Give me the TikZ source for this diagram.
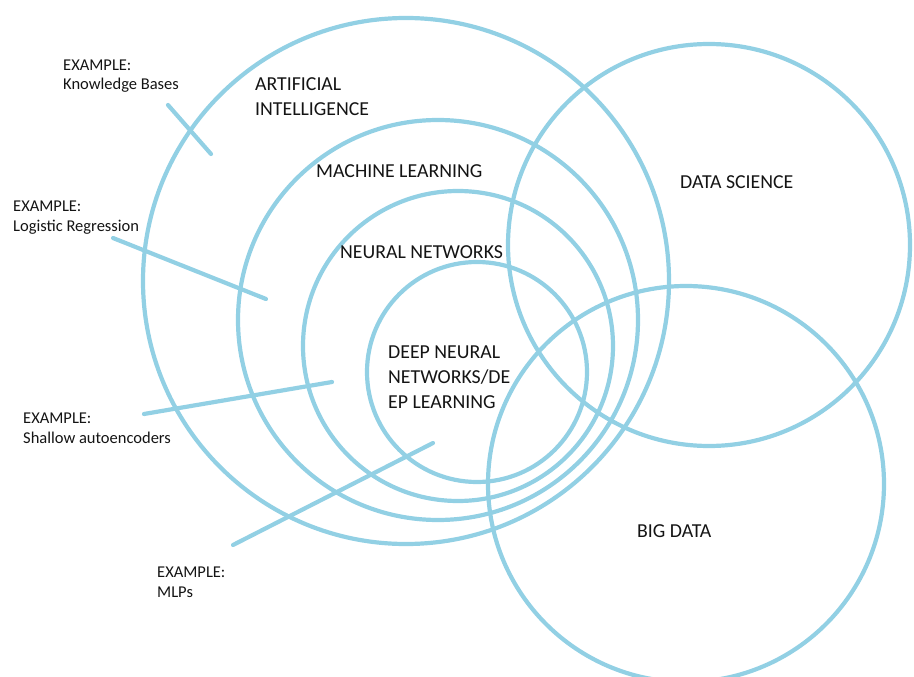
\documentclass[tikz,border=0pt]{standalone}
\usepackage{fontspec}
\setmainfont{Carlito}
\definecolor{skyline}{RGB}{146,208,228}
\definecolor{ink}{RGB}{20,20,20}

\begin{document}
\begin{tikzpicture}[
    x=1pt, y=-1pt,
    ring/.style={circle, draw=skyline, line width=4.2pt, inner sep=0pt},
    tick/.style={draw=skyline, line width=4.2pt, line cap=round},
    big/.style={anchor=base west, inner sep=0pt, align=left, text=ink,
        font=\fontsize{19.8}{25}\selectfont},
    small/.style={anchor=base west, inner sep=0pt, align=left, text=ink,
        font=\fontsize{16.5}{20}\selectfont}
]
\useasboundingbox (0,0) rectangle (914,677);

% the circles
\node[ring, minimum size=526pt] (ai) at (406,281){};
\node[ring, minimum size=400pt] (ml) at (438,320){};
\node[ring, minimum size=310pt] (nn) at (458,346){};
\node[ring, minimum size=220pt] (dnn) at (477,372){};
\node[ring, minimum size=402pt] (ds) at (709,245){};
\node[ring, minimum size=396pt] (bd) at (686,484){};

% labels sit on the baseline of their last line
\node[big] (aiLabel) at (255,116) {ARTIFICIAL\\INTELLIGENCE};
\node[big] (mlLabel) at (316,177) {MACHINE LEARNING};
\node[big] (nnLabel) at (340,258) {NEURAL NETWORKS};
\node[big] (dnnLabel) at (388,408) {DEEP NEURAL\\NETWORKS/DE\\EP LEARNING};
\node[big] (dsLabel) at (680,188) {DATA SCIENCE};
\node[big] (bdLabel) at (637,537) {BIG DATA};

% examples
\node[small] (kbLabel) at (63,90) {EXAMPLE:\\Knowledge Bases};
\node[small] (lrLabel) at (13,231) {EXAMPLE:\\Logistic Regression};
\node[small] (saLabel) at (23,443) {EXAMPLE:\\Shallow autoencoders};
\node[small] (mlpLabel) at (157,597) {EXAMPLE:\\MLPs};

\coordinate (kb1) at (168,105);
\coordinate (kb2) at (211,154);
\coordinate (lr1) at (113,238);
\coordinate (lr2) at (266,299);
\coordinate (sa1) at (144,414);
\coordinate (sa2) at (332,382);
\coordinate (mlp1) at (233,545);
\coordinate (mlp2) at (433,443);

\draw[tick] (kb1)--(kb2);
\draw[tick] (lr1)--(lr2);
\draw[tick] (sa1)--(sa2);
\draw[tick] (mlp1)--(mlp2);

\end{tikzpicture}
\end{document}
